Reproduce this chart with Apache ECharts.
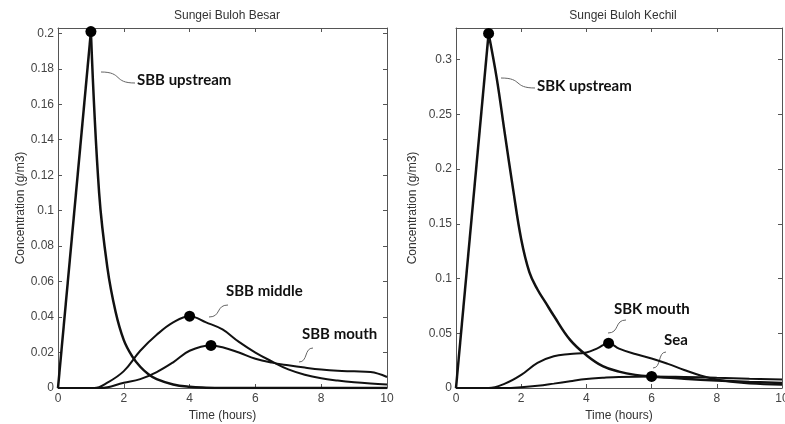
<!DOCTYPE html>
<html>
<head>
<meta charset="utf-8">
<script src="https://cdn.jsdelivr.net/npm/echarts@6/dist/echarts.min.js"></script>
<style>
	html, body { margin: 0; padding: 0; background: #fff; }
	#chart { width: 785px; height: 424px; }
</style>
</head>
<body>
<div id="chart"></div>
<script>
// values: [time (hours), concentration (g/m3)]
var sbbUpstream = [[0, 0], [1, 0.201], [1.25, 0.11], [1.5, 0.068], [1.75, 0.043], [2, 0.027], [2.25, 0.018], [2.5, 0.012], [2.75, 0.0078], [3, 0.005], [3.5, 0.002], [4, 0.0007], [4.5, 0.0002], [5, 0], [10, 0]];
var sbbMiddle = [[0, 0], [1.1, 0], [1.5, 0.003], [2, 0.0095], [2.5, 0.021], [3, 0.03], [3.5, 0.037], [4, 0.0405], [4.5, 0.037], [5, 0.033], [5.5, 0.026], [6, 0.02], [6.5, 0.015], [7, 0.0105], [7.5, 0.0075], [8, 0.0055], [8.5, 0.0042], [9, 0.0032], [9.5, 0.0025], [10, 0.002]];
var sbbMouth = [[0, 0], [1.3, 0], [2, 0.003], [2.5, 0.005], [3, 0.009], [3.5, 0.0145], [4, 0.021], [4.65, 0.024], [5, 0.023], [5.5, 0.02], [6, 0.0165], [6.5, 0.0143], [7, 0.0128], [7.5, 0.0115], [8, 0.0104], [8.5, 0.0097], [9, 0.0094], [9.5, 0.009], [10, 0.0062]];
var sbbDots = [[1, 0.201], [4, 0.0405], [4.65, 0.024]];

var sbkUpstream = [[0, 0], [1, 0.324], [1.25, 0.283], [1.5, 0.232], [1.75, 0.182], [2, 0.136], [2.25, 0.106], [2.5, 0.09], [2.75, 0.078], [3, 0.066], [3.5, 0.044], [4, 0.03], [4.5, 0.02], [5, 0.015], [5.5, 0.012], [6, 0.0105], [7, 0.0085], [8, 0.0068], [9, 0.0055], [10, 0.0045]];
var sbkMouth = [[0, 0], [1, 0], [1.5, 0.004], [2, 0.012], [2.5, 0.023], [3, 0.029], [3.5, 0.031], [4, 0.0325], [4.35, 0.0365], [4.68, 0.041], [5, 0.036], [5.5, 0.031], [6, 0.027], [6.5, 0.022], [7, 0.0165], [7.5, 0.0115], [8, 0.0078], [8.5, 0.0055], [9, 0.0042], [10, 0.003]];
var sea = [[0, 0], [1.5, 0], [2, 0.0007], [2.5, 0.002], [3, 0.004], [3.5, 0.0062], [4, 0.0082], [4.5, 0.0093], [5, 0.0101], [6, 0.0106], [7, 0.0101], [8, 0.0093], [9, 0.0085], [10, 0.0078]];
var sbkDots = [[1, 0.324], [4.68, 0.041], [6, 0.0106]];

var titles = ['Sungei Buloh Besar', 'Sungei Buloh Kechil'];
var yMax = [0.203, 0.329];
var yStep = [0.02, 0.05];

var chart = echarts.init(document.getElementById('chart'));
var grey = '#555';
var font = 'Liberation Sans';

function xAxes(grid) {
	var base = {
		gridIndex: grid, type: 'value', min: 0, max: 10, interval: 2,
		axisLine: { show: true, onZero: false, lineStyle: { color: grey } },
		axisTick: { show: true, inside: true, length: 4, lineStyle: { color: grey } },
		splitLine: { show: false }
	};
	return [
		Object.assign({}, base, {
			position: 'bottom',
			name: 'Time (hours)', nameLocation: 'middle', nameGap: 20,
			nameTextStyle: { color: '#333', fontSize: 12, fontFamily: font },
			axisLabel: { color: '#444', fontSize: 12, fontFamily: font, margin: 5 }
		}),
		Object.assign({}, base, { position: 'top', axisLabel: { show: false } })
	];
}

function yAxes(grid, k, gap) {
	var base = {
		gridIndex: grid, type: 'value', min: 0, max: yMax[k], interval: yStep[k],
		axisLine: { show: true, onZero: false, lineStyle: { color: grey } },
		axisTick: { show: true, inside: true, length: 4, lineStyle: { color: grey } },
		splitLine: { show: false }
	};
	return [
		Object.assign({}, base, {
			position: 'left',
			name: 'Concentration (g/m3)', nameLocation: 'middle', nameGap: gap,
			nameTextStyle: { color: '#333', fontSize: 12, fontFamily: font },
			axisLabel: { color: '#444', fontSize: 12, fontFamily: font, margin: 4, showMaxLabel: false }
		}),
		Object.assign({}, base, { position: 'right', axisLabel: { show: false } })
	];
}

function line(data, xi, yi, w, smooth) {
	return {
		type: 'line', data: data, xAxisIndex: xi, yAxisIndex: yi,
		showSymbol: false, smooth: smooth, silent: true,
		lineStyle: { color: '#111', width: w }
	};
}

function dots(data, xi, yi) {
	return {
		type: 'scatter', data: data, xAxisIndex: xi, yAxisIndex: yi,
		symbolSize: 11, itemStyle: { color: '#000', opacity: 1 }, silent: true, z: 5
	};
}

// text + wavy leader line
function note(text, tx, ty, x1, y1, x2, y2) {
	var mx = (x1 + x2) / 2;
	return [
		{
			type: 'text', left: tx, top: ty - 9,
			style: { text: text, fill: '#111', font: 'bold 15px Lato, "Open Sans", sans-serif' }
		},
		{
			type: 'bezierCurve',
			shape: { x1: x1, y1: y1, x2: x2, y2: y2, cpx1: mx + (x2 - x1) * 0.15, cpy1: y1, cpx2: mx - (x2 - x1) * 0.15, cpy2: y2 },
			style: { stroke: '#666', lineWidth: 1, fill: null }
		}
	];
}

var graphics = [].concat(
	note('SBB upstream', 137, 82, 101, 72, 135, 83),
	note('SBB middle', 226, 293, 209, 317, 228, 305),
	note('SBB mouth', 302, 336, 299, 362, 313, 348),
	note('SBK upstream', 537, 88, 501, 78, 535, 88),
	note('SBK mouth', 614, 311, 608, 333, 626, 320),
	note('Sea', 664, 342, 653, 368, 666, 352)
);

chart.setOption({
	animation: false,
	backgroundColor: '#fff',
	title: [
		{ text: titles[0], left: 222, top: 5, textAlign: 'center', textStyle: { color: '#333', fontSize: 12, fontWeight: 'normal', fontFamily: font } },
		{ text: titles[1], left: 618, top: 5, textAlign: 'center', textStyle: { color: '#333', fontSize: 12, fontWeight: 'normal', fontFamily: font } }
	],
	grid: [
		{ left: 58, right: 398, top: 28, bottom: 36, outerBoundsMode: 'none' },
		{ left: 456, right: 3, top: 28, bottom: 36, outerBoundsMode: 'none' }
	],
	xAxis: xAxes(0).concat(xAxes(1)),
	yAxis: yAxes(0, 0, 31).concat(yAxes(1, 1, 37)),
	series: [
		// rising limb straight, falling limb smoothed from the peak on
		line(sbbUpstream.slice(0, 2), 0, 0, 2.5, false),
		line(sbbUpstream.slice(1), 0, 0, 2.5, 0.4),
		line(sbbMiddle, 0, 0, 2, 0.4),
		line(sbbMouth, 0, 0, 2, 0.4),
		dots(sbbDots, 0, 0),
		line(sbkUpstream.slice(0, 2), 2, 2, 2.5, false),
		line(sbkUpstream.slice(1), 2, 2, 2.5, 0.4),
		line(sbkMouth, 2, 2, 2, 0.4),
		line(sea, 2, 2, 2, 0.4),
		dots(sbkDots, 2, 2)
	],
	graphic: graphics
});
</script>
</body>
</html>
